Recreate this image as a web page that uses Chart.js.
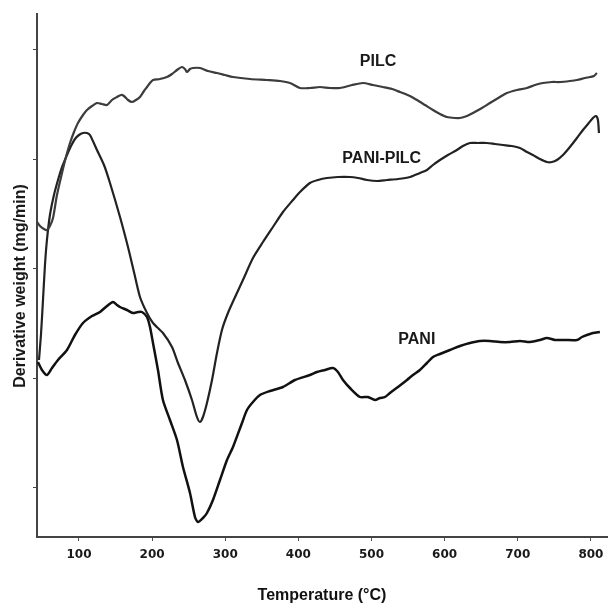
<!DOCTYPE html>
<html>
<head>
    <meta charset="utf-8" />
    <title>DTG curves</title>
    <script src="https://cdn.jsdelivr.net/npm/chart.js"></script>
    <style>
        body {
            margin: 0;
            background-color: #ffffff;
        }
        #wrap {
            position: relative;
            width: 614px;
            height: 610px;
        }
    </style>
</head>
<body>
    <div id="wrap">
        <canvas id="dtgChart" width="614" height="610"></canvas>
    </div>
    <script>
        // x ticks (temperature, °C)
        const xTicks = [100, 200, 300, 400, 500, 600, 700, 800];
        // unlabeled y tick marks (arbitrary units)
        const yTicks = [9.8, 31.8, 53.8, 75.6, 97.4];

        // PILC
        const pilcTemp = [42.6, 46.7, 52.1, 56.2, 60.3, 64.5, 69.9, 76.8, 82.2, 87.7, 93.2, 98.6, 105.5, 110.9, 117.8, 124.6, 131.4, 138.3, 145.1, 152.0, 157.4, 161.5, 167.0, 172.5, 177.9, 183.4, 188.9, 193.0, 197.1, 201.2, 210.7, 220.3, 227.2, 234.0, 240.8, 244.9, 247.7, 251.8, 255.9, 265.4, 276.4, 288.7, 299.6, 310.6, 333.8, 357.0, 374.8, 388.5, 402.2, 415.8, 429.5, 443.2, 456.9, 473.3, 488.3, 502.0, 515.6, 528.0, 538.9, 552.6, 562.1, 573.1, 584.0, 593.6, 603.1, 614.1, 620.9, 630.5, 638.7, 651.0, 661.9, 675.6, 685.2, 698.9, 712.5, 723.5, 734.4, 746.7, 757.6, 771.3, 780.9, 791.9, 798.7, 804.2, 808.2];
        const pilcDeriv = [63.0, 62.2, 61.6, 61.4, 62.2, 63.8, 68.4, 72.8, 76.0, 78.8, 81.0, 82.8, 84.4, 85.4, 86.2, 86.8, 86.6, 86.4, 87.4, 88.0, 88.4, 88.2, 87.4, 87.0, 87.4, 88.0, 89.2, 90.0, 90.8, 91.4, 91.6, 92.0, 92.6, 93.4, 94.0, 93.6, 93.0, 93.6, 93.8, 93.8, 93.2, 92.8, 92.4, 92.0, 91.6, 91.4, 91.2, 90.8, 89.8, 89.8, 90.0, 89.8, 89.8, 90.4, 90.8, 90.4, 90.0, 89.6, 89.0, 88.2, 87.4, 86.4, 85.4, 84.6, 84.0, 83.8, 83.8, 84.2, 84.8, 85.8, 86.8, 88.0, 88.8, 89.4, 89.8, 90.4, 90.8, 91.0, 91.0, 91.2, 91.4, 91.8, 92.0, 92.2, 92.8];

        // PANI-PILC
        const paniPilcTemp = [45.3, 48.0, 50.8, 53.5, 56.2, 60.3, 65.8, 71.3, 76.8, 83.6, 89.1, 94.5, 100.0, 105.5, 110.9, 115.0, 124.6, 134.2, 142.4, 156.1, 167.0, 175.2, 183.4, 193.0, 201.2, 214.8, 227.2, 235.4, 244.9, 254.5, 261.3, 265.4, 269.5, 275.0, 281.9, 288.7, 295.5, 303.7, 316.0, 324.2, 337.9, 351.6, 365.2, 378.9, 392.6, 402.2, 415.8, 426.8, 439.1, 454.1, 470.5, 481.5, 493.8, 507.5, 521.1, 536.2, 552.6, 566.2, 575.8, 584.0, 593.6, 604.5, 616.8, 625.0, 634.6, 645.5, 657.8, 668.8, 679.7, 692.0, 703.0, 712.5, 720.7, 730.3, 739.9, 746.7, 753.5, 761.8, 771.3, 780.9, 789.1, 796.0, 802.8, 806.9, 809.6, 811.0];
        const paniPilcDeriv = [35.4, 40.4, 47.4, 54.4, 59.4, 64.4, 68.4, 71.4, 74.0, 76.4, 78.2, 79.6, 80.4, 80.8, 80.8, 80.4, 77.4, 74.4, 70.8, 64.0, 58.0, 53.0, 48.0, 44.8, 42.8, 40.8, 38.0, 34.8, 31.4, 27.4, 24.0, 23.0, 24.0, 26.8, 31.4, 36.8, 41.4, 44.8, 48.8, 51.4, 55.8, 59.0, 62.0, 65.0, 67.4, 69.0, 70.8, 71.4, 71.8, 72.0, 72.0, 71.8, 71.4, 71.2, 71.4, 71.6, 72.0, 72.8, 73.4, 74.4, 75.4, 76.4, 77.4, 78.2, 78.8, 78.8, 78.8, 78.6, 78.4, 78.2, 77.8, 77.0, 76.4, 75.6, 75.0, 75.0, 75.4, 76.4, 78.0, 79.8, 81.4, 82.6, 83.8, 84.2, 83.4, 80.8];

        // PANI
        const paniTemp = [43.9, 49.4, 56.2, 63.1, 71.3, 83.6, 94.5, 105.5, 117.8, 128.7, 138.3, 146.5, 152.0, 156.1, 165.6, 173.8, 180.7, 186.1, 193.0, 197.1, 201.2, 208.0, 214.8, 224.4, 234.0, 242.2, 251.8, 258.6, 262.7, 269.5, 275.0, 283.2, 292.8, 302.4, 310.6, 322.9, 329.7, 337.9, 347.5, 361.2, 378.9, 395.3, 415.8, 425.4, 436.4, 447.3, 454.1, 461.0, 470.5, 484.2, 495.1, 504.7, 511.5, 518.4, 525.2, 536.2, 548.5, 556.7, 566.2, 575.8, 584.0, 593.6, 607.2, 620.9, 634.6, 648.3, 661.9, 675.6, 689.3, 703.0, 716.7, 730.3, 739.9, 750.8, 764.5, 780.9, 787.8, 794.5, 802.8, 812.3];
        const paniDeriv = [35.0, 33.4, 32.4, 33.8, 35.4, 37.4, 40.4, 42.8, 44.2, 45.0, 46.2, 47.0, 46.4, 46.0, 45.4, 44.8, 45.0, 45.0, 44.0, 42.0, 38.8, 33.4, 27.4, 23.4, 19.4, 14.0, 8.8, 4.0, 3.0, 3.8, 4.8, 7.4, 11.4, 15.4, 18.0, 22.8, 25.4, 27.0, 28.4, 29.2, 30.0, 31.4, 32.4, 33.0, 33.4, 33.8, 33.0, 31.4, 29.8, 28.0, 28.0, 27.4, 27.8, 28.0, 28.8, 30.0, 31.4, 32.4, 33.4, 34.8, 36.0, 36.6, 37.4, 38.2, 38.8, 39.2, 39.2, 39.0, 39.0, 39.2, 39.0, 39.4, 39.8, 39.4, 39.4, 39.4, 40.0, 40.4, 40.8, 41.0];

        // curve names and where they are written (data coords)
        const curveNames = ['PILC', 'PANI-PILC', 'PANI'];
        const nameTemp = [509, 514, 562];
        const nameDeriv = [95.0, 75.6, 39.4];

        function toPoints(xs, ys) {
            return xs.map((x, i) => ({ x: x, y: ys[i] }));
        }

        // writes the curve names and the rotated y title
        const labelsPlugin = {
            id: 'curveLabels',
            afterDraw(chart) {
                const { ctx, scales } = chart;
                ctx.save();
                ctx.fillStyle = '#1a1a1a';
                ctx.font = 'bold 16px "Liberation Sans", Arial, sans-serif';
                ctx.textAlign = 'center';
                ctx.textBaseline = 'middle';
                curveNames.forEach((name, i) => {
                    ctx.fillText(name, scales.x.getPixelForValue(nameTemp[i]), scales.y.getPixelForValue(nameDeriv[i]));
                });
                // y axis title
                ctx.translate(21, 286);
                ctx.rotate(-Math.PI / 2);
                ctx.font = 'bold 16px "Liberation Sans", Arial, sans-serif';
                ctx.fillText('Derivative weight (mg/min)', 0, 0);
                ctx.restore();
            }
        };

        const lineStyle = {
            fill: false,
            pointRadius: 0,
            tension: 0.25,
            borderWidth: 2.2
        };

        new Chart(document.getElementById('dtgChart'), {
            type: 'line',
            data: {
                datasets: [
                    Object.assign({ label: 'PILC', data: toPoints(pilcTemp, pilcDeriv), borderColor: '#3c3c3c' }, lineStyle),
                    Object.assign({ label: 'PANI-PILC', data: toPoints(paniPilcTemp, paniPilcDeriv), borderColor: '#222222' }, lineStyle),
                    Object.assign({ label: 'PANI', data: toPoints(paniTemp, paniDeriv), borderColor: '#111111' }, lineStyle, { borderWidth: 2.5 })
                ]
            },
            options: {
                responsive: false,
                animation: false,
                devicePixelRatio: 1,
                layout: {
                    padding: { left: 0, top: 14, right: 7, bottom: 0 }
                },
                plugins: {
                    legend: { display: false },
                    tooltip: { enabled: false }
                },
                scales: {
                    x: {
                        type: 'linear',
                        min: 42.6,
                        max: 822,
                        afterBuildTicks: (scale) => {
                            scale.ticks = xTicks.map(v => ({ value: v }));
                        },
                        afterFit: (scale) => {
                            scale.height = 73;
                        },
                        grid: {
                            drawOnChartArea: false,
                            drawTicks: true,
                            tickLength: 4,
                            color: '#555555'
                        },
                        border: {
                            display: true,
                            color: '#444444',
                            width: 2
                        },
                        ticks: {
                            color: '#1a1a1a',
                            padding: 7,
                            maxRotation: 0,
                            font: { family: '"DejaVu Sans", sans-serif', size: 12, weight: 'bold' }
                        },
                        title: {
                            display: true,
                            text: 'Temperature (°C)',
                            color: '#111111',
                            padding: { top: 0, bottom: 5 },
                            font: { family: '"Liberation Sans", Arial, sans-serif', size: 16, weight: 'bold' }
                        }
                    },
                    y: {
                        type: 'linear',
                        min: 0,
                        max: 104.6,
                        afterBuildTicks: (scale) => {
                            scale.ticks = yTicks.map(v => ({ value: v }));
                        },
                        afterFit: (scale) => {
                            scale.width = 37;
                        },
                        grid: {
                            drawOnChartArea: false,
                            drawTicks: true,
                            tickLength: 4,
                            color: '#444444'
                        },
                        border: {
                            display: true,
                            color: '#444444',
                            width: 2
                        },
                        ticks: {
                            display: false
                        }
                    }
                }
            },
            plugins: [labelsPlugin]
        });
    </script>
</body>
</html>
